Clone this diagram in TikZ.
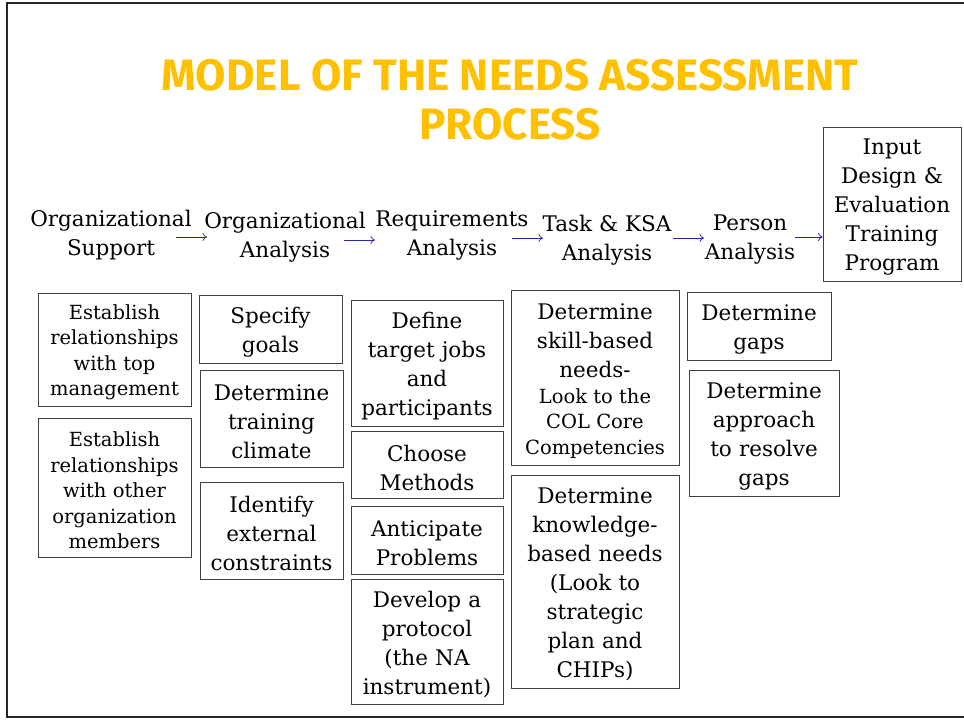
\documentclass[tikz,border=0pt]{standalone}
\usepackage{fontspec}
\setmainfont{DejaVu Serif}
\newfontfamily\titlefont{Fira Sans}
\usetikzlibrary{arrows.meta}
\definecolor{titlegold}{RGB}{255,192,0}
\definecolor{arrowblue}{RGB}{40,40,170}
\tikzset{
  big/.style={font=\fontsize{21.5}{29}\selectfont},
  small/.style={font=\fontsize{19.5}{25.5}\selectfont},
  hdr/.style={align=center, inner sep=0pt, font=\fontsize{21.5}{29}\selectfont},
  boxnode/.style={draw=black!75, line width=0.8pt, inner sep=0pt},
  boxtext/.style={align=center, inner sep=0pt},
  flow/.style={draw=arrowblue, line width=0.75pt, -{To[length=4.5pt,width=8pt]}},
}
\newcommand{\bx}[7]{% name, x1, y1, x2, y2, style, text
  \node[boxnode, minimum width={(#4-#2)*1pt}, minimum height={(#5-#3)*1pt}] (#1) at ({(#2+#4)/2},{(#3+#5)/2}) {};
  \node[boxtext, #6, text width={(#4-#2-4)*1pt}] (#1t) at ([yshift=-3pt]#1.center) {#7};}
\begin{document}
\begin{tikzpicture}[x=1pt,y=-1pt]
\useasboundingbox (0,0) rectangle (964,721);
\fill[white] (0,0) rectangle (964,721);
\draw[line width=2pt, black!85] (964,3) -- (7,3) -- (7,717) -- (964,717);
% title
\node[font=\titlefont\bfseries\fontsize{44}{49}\selectfont, text=titlegold, align=center, inner sep=0pt] (title) at (510,100) {MODEL OF THE NEEDS ASSESSMENT\\PROCESS};
% headers
\node[hdr] (h1) at (111,235.5) {Organizational\\Support};
\node[hdr] (h2) at (285,237.5) {Organizational\\Analysis};
\node[hdr] (h3) at (452,235.5) {Requirements\\Analysis};
\node[hdr] (h4) at (607,240.5) {Task \& KSA\\Analysis};
\node[hdr] (h5) at (750,239.5) {Person\\Analysis};
\bx{inp}{823}{127}{961}{281}{font=\fontsize{21.5}{28.8}\selectfont}{Input\\Design \&\\Evaluation\\Training\\Program}
\draw[flow] (176,237) -- (207,237);
\draw[flow] (344,240) -- (375,240);
\draw[flow] (512,238) -- (543,238);
\draw[flow] (673,238) -- (704,238);
\draw[flow] (795,237) -- (inp.west |- 0,237);
% column 1
\bx{c1a}{38}{293}{191}{406}{small}{Establish\\relationships\\with top\\management}
\bx{c1b}{38}{418}{191}{557}{small}{Establish\\relationships\\with other\\organization\\members}
% column 2
\bx{c2a}{199}{295}{342}{363}{big}{Specify\\goals}
\bx{c2b}{200}{370}{343}{467}{big}{Determine\\training\\climate}
\bx{c2c}{200}{482}{343}{579}{big}{Identify\\external\\constraints}
% column 3
\bx{c3a}{351}{300}{503}{426}{big}{Define\\target jobs\\and\\participants}
\bx{c3b}{351}{431}{503}{498}{big}{Choose\\Methods}
\bx{c3c}{351}{506}{503}{574}{big}{Anticipate\\Problems}
\bx{c3d}{351}{579}{503}{704}{big}{Develop a\\protocol\\(the NA\\instrument)}
% column 4
\node[boxnode, minimum width=168pt, minimum height=175pt] (c4a) at (595,377.5) {};
\node[boxtext, big] (c4at) at (595,341) {Determine\\skill-based\\needs-};
\node[boxtext, small] (c4as) at (595,423.5) {Look to the\\COL Core\\Competencies};
\bx{c4b}{511}{475}{679}{688}{big}{Determine\\knowledge-\\based needs\\(Look to\\strategic\\plan and\\CHIPs)}
% column 5
\bx{c5a}{687}{292}{831}{360}{big}{Determine\\gaps}
\bx{c5b}{689}{370}{839}{496}{big}{Determine\\approach\\to resolve\\gaps}
\end{tikzpicture}
\end{document}
